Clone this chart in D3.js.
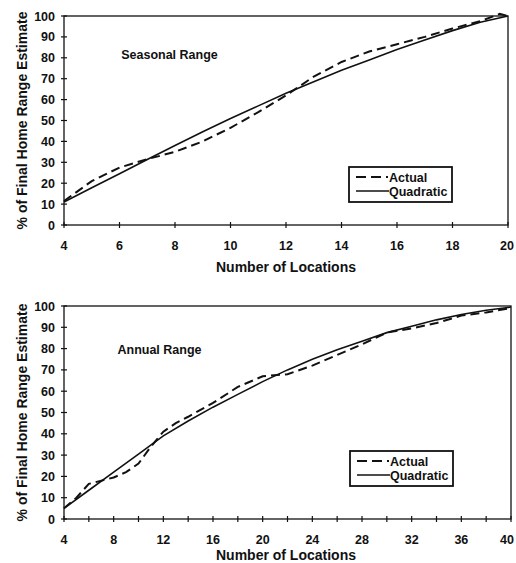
<!DOCTYPE html>
<html><head><meta charset="utf-8">
<script src="https://cdn.jsdelivr.net/npm/d3@7"></script>
<style>
body{margin:0;background:#fff;}
text{font-family:"Liberation Sans",Arial,Helvetica,sans-serif;font-weight:bold;fill:#111;}
</style></head>
<body>
<svg id="c" width="516" height="563"></svg>
<script>
// ---- Data ----
const seasonalX = [4,5,6,7,8,9,10,11,12,13,14,15,16,17,18,19,19.7,20];
const seasonalActual = [11.5,21,27.5,31.5,35,40,46.5,54,62,71,78,83,86.5,90,94,97.5,101,100];
const seasonalQuadX = [4,5,6,7,8,9,10,11,12,13,14,15,16,17,18,19,20];
const seasonalQuadratic = [11,17.8,24.5,31.3,38,44.6,51,57,63,68.5,74,79,84,88.5,93,97,100];
const seasonalTicks = [4,6,8,10,12,14,16,18,20];

const annualX = [4,5,6,7,8,9,10,11,12,13,14,16,18,20,22,24,26,28,30,32,34,36,38,40];
const annualActual = [5,10,16.5,18,19.5,22,26,34,41,45,48,54.5,62,67,68,72,77,82,87.5,89.5,92,95.5,97,99];
const annualQuadX = [4,6,8,10,12,14,16,18,20,22,24,26,28,30,32,34,36,38,40];
const annualQuadratic = [5,13.5,22,30.5,39,46,52.5,58.5,64.5,70,75,79.5,83.5,87.5,90.5,93.5,96,98,99.5];
const annualTicks = [4,6,8,10,12,14,16,18,20,22,24,26,28,30,32,34,36,38,40];
const annualTickLabels = [4,8,12,16,20,24,28,32,36,40];

const yTicks = [0,10,20,30,40,50,60,70,80,90,100];
const seriesNames = ["Actual","Quadratic"];
const xTitle = "Number of Locations";
const yTitle = "% of Final Home Range Estimate";

const svg = d3.select("#c");

function panel(cfg){
  const g = svg.append("g");
  const x = d3.scaleLinear().domain(cfg.xDomain).range([cfg.left, cfg.right]);
  const y = d3.scaleLinear().domain([0,100]).range([cfg.bottom, cfg.top]);

  // frame
  g.append("rect").attr("x",cfg.left).attr("y",cfg.top)
    .attr("width",cfg.right-cfg.left).attr("height",cfg.bottom-cfg.top)
    .attr("fill","none").attr("stroke","#111").attr("stroke-width",1.3);

  // y ticks (crossing) + labels
  yTicks.forEach(v=>{
    g.append("line").attr("x1",cfg.left-3).attr("x2",cfg.left+3)
      .attr("y1",y(v)).attr("y2",y(v)).attr("stroke","#111").attr("stroke-width",1.2);
    g.append("text").attr("x",cfg.left-9).attr("y",y(v)+4.5)
      .attr("text-anchor","end").attr("font-size",12.5).text(v);
  });
  // x ticks
  cfg.xTicks.forEach(v=>{
    g.append("line").attr("x1",x(v)).attr("x2",x(v))
      .attr("y1",cfg.bottom-3).attr("y2",cfg.bottom+3).attr("stroke","#111").attr("stroke-width",1.2);
  });
  cfg.xLabels.forEach(v=>{
    g.append("text").attr("x",Math.min(x(v),507)).attr("y",cfg.bottom+24.5)
      .attr("text-anchor","middle").attr("font-size",12.5).text(v);
  });

  // titles
  g.append("text").attr("x",286).attr("y",cfg.titleY)
    .attr("text-anchor","middle").attr("font-size",14).text(xTitle);
  g.append("text").attr("transform",`translate(27,${(cfg.top+cfg.bottom)/2}) rotate(-90)`)
    .attr("text-anchor","middle").attr("font-size",14).text(yTitle);
  g.append("text").attr("x",cfg.labelX).attr("y",cfg.labelY)
    .attr("text-anchor","middle").attr("font-size",12.5).text(cfg.label);

  const line = d3.line().x(d=>x(d[0])).y(d=>y(d[1]));
  g.append("path").datum(cfg.quadX.map((v,i)=>[v,cfg.quad[i]]))
    .attr("d",line).attr("fill","none").attr("stroke","#111").attr("stroke-width",1.6);
  g.append("path").datum(cfg.actX.map((v,i)=>[v,cfg.act[i]]))
    .attr("d",line).attr("fill","none").attr("stroke","#111").attr("stroke-width",2)
    .attr("stroke-dasharray","9,5");

  // legend
  const L = cfg.legend;
  g.append("rect").attr("x",L.x).attr("y",L.y).attr("width",103).attr("height",35)
    .attr("fill","#fff").attr("stroke","#111").attr("stroke-width",1.8);
  g.append("line").attr("x1",L.x+7).attr("x2",L.x+39).attr("y1",L.y+10).attr("y2",L.y+10)
    .attr("stroke","#111").attr("stroke-width",1.8).attr("stroke-dasharray","10,5");
  g.append("line").attr("x1",L.x+7).attr("x2",L.x+40).attr("y1",L.y+24).attr("y2",L.y+24)
    .attr("stroke","#111").attr("stroke-width",1.4);
  g.append("text").attr("x",L.x+40).attr("y",L.y+14.5).attr("font-size",12.5).text(seriesNames[0]);
  g.append("text").attr("x",L.x+40).attr("y",L.y+28.5).attr("font-size",12.5).text(seriesNames[1]);
}

panel({xDomain:[4,20], left:64, right:508, top:16, bottom:225,
  xTicks:seasonalTicks, xLabels:seasonalTicks, titleY:272,
  actX:seasonalX, act:seasonalActual, quadX:seasonalQuadX, quad:seasonalQuadratic,
  label:"Seasonal Range", labelX:169.5, labelY:59,
  legend:{x:349, y:167}});

panel({xDomain:[4,40], left:64, right:511, top:306, bottom:519,
  xTicks:annualTicks, xLabels:annualTickLabels, titleY:560,
  actX:annualX, act:annualActual, quadX:annualQuadX, quad:annualQuadratic,
  label:"Annual Range", labelX:159.5, labelY:354,
  legend:{x:350, y:451}});
</script>
</body></html>
